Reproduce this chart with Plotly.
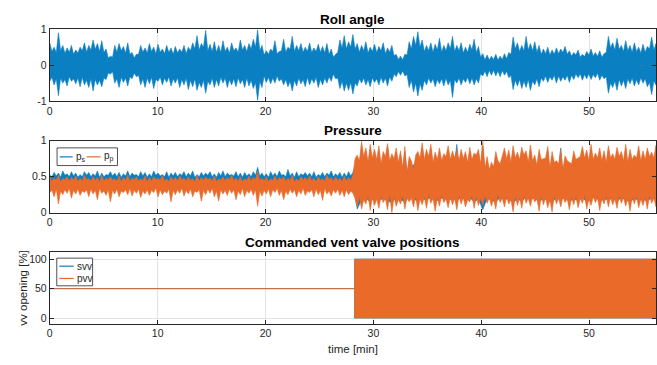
import numpy as np
import plotly.graph_objects as go

# ---------------- data (signal values in hundredths) ----------------
t_end = 56.2
x_ticks = [0, 10, 20, 30, 40, 50]

# Roll angle: local maxima (peaks, 141 bins) and the dips between them (valleys, 140)
roll_hi_peak = [62,50,90,55,48,55,42,50,62,55, 70,60,68,45,25,55,60,52,62,35,
                30,55,48,60,50,58,45,55,48,52, 45,55,50,62,82,60,97,58,65,55,
                68,50,62,48,70,55,60,72,98,55, 40,45,68,38,72,50,80,55,60,50,
                62,48,58,52,60,45,30,70,82,65, 85,60,55,65,50,58,52,62,48,55,
                30,25,30,65,80,93,70,55,62,58, 75,55,62,80,55,62,50,58,72,52,
                32,28,25,30,25,32,35,78,62,55, 80,60,65,55,45,50,42,48,45,52,
                40,35,42,30,38,45,35,40,32,80, 62,75,55,68,55,62,50,58,52,78,
                60]
roll_hi_valley = [38,35,40,33,36,30,34,40,36,42, 44,38,35,20,22,36,40,34,30,20,
                  30,36,34,38,32,36,32,35,30,34, 36,32,40,45,42,50,40,38,36,35,
                  38,34,40,36,42,38,45,50,40,28, 30,38,32,40,36,44,38,40,36,38,
                  35,38,36,34,30,22,35,48,45,50, 45,36,40,34,38,35,40,32,36,26,
                  16,15,28,45,55,50,38,40,36,42, 36,40,45,38,40,34,36,42,35,22,
                  15,14,16,14,16,18,30,45,38,40, 42,40,36,30,32,28,30,32,35,30,
                  25,28,22,24,28,25,24,22,35,48, 42,44,38,40,36,38,34,36,45,42]
roll_lo_peak = [-45,-55,-85,-50,-58,-45,-52,-60,-55,-62, -72,-55,-60,-40,-25,-50,-62,-48,-58,-38,
                -32,-55,-62,-52,-65,-45,-55,-48,-58,-50, -62,-55,-68,-60,-70,-62,-78,-55,-62,-58,
                -50,-62,-55,-60,-52,-62,-58,-65,-98,-62, -48,-52,-50,-45,-55,-60,-72,-58,-52,-60,
                -55,-50,-62,-55,-50,-45,-38,-65,-72,-70, -80,-58,-50,-55,-60,-48,-55,-50,-58,-45,
                -32,-28,-30,-62,-75,-86,-70,-55,-50,-60, -52,-58,-55,-90,-50,-55,-48,-52,-55,-50,
                -30,-32,-28,-30,-32,-28,-35,-68,-58,-65, -62,-70,-55,-60,-45,-48,-42,-50,-45,-42,
                -48,-40,-35,-42,-38,-40,-35,-42,-38,-78, -62,-70,-58,-65,-52,-58,-55,-50,-60,-82,
                -55]
roll_lo_valley = [-34,-38,-36,-40,-32,-38,-36,-34,-42,-38, -40,-42,-36,-22,-18,-38,-34,-36,-32,-22,
                  -28,-38,-36,-34,-40,-33,-36,-32,-38,-35, -40,-36,-42,-38,-48,-42,-45,-36,-40,-34,
                  -36,-40,-38,-35,-40,-36,-42,-48,-45,-30, -34,-36,-30,-38,-40,-45,-42,-36,-40,-34,
                  -38,-34,-40,-36,-32,-25,-36,-45,-50,-48, -50,-38,-36,-40,-35,-38,-34,-36,-32,-25,
                  -18,-16,-26,-42,-50,-52,-42,-36,-38,-40, -38,-36,-42,-40,-36,-38,-34,-36,-38,-24,
                  -16,-15,-14,-16,-15,-17,-28,-42,-40,-44, -40,-44,-38,-36,-30,-32,-28,-30,-32,-28,
                  -28,-25,-24,-26,-24,-26,-22,-28,-32,-50, -44,-40,-42,-38,-36,-40,-35,-38,-48,-44]

# Pressure p_s (blue)
ps_hi_peak = [52,56,55,58,54,57,55,53,57,56, 54,58,55,53,57,55,56,54,58,55,
              53,57,56,54,58,55,53,57,55,56, 54,57,55,58,53,56,55,57,54,56,
              58,55,53,57,55,56,54,57,63,55, 54,57,55,58,53,60,55,57,54,56,
              55,57,53,56,55,58,54,56,55,57, 56,
              70,90,85,88,80,86,78,90,75,84, 80,85,72,66,78,90,82,88,78,83,
              76,86,80,95,82,78,85,77,82,92, 72,64,78,62,84,80,86,78,85,80,
              88,74,82,70,86,78,66,90,72,64, 80,70,86,80,88,77,84,80,86,76,
              85,79,88,82,74,86,80,84,78,88]
ps_hi_valley = [50,51,49,52,50,51,49,50,52,50, 51,49,50,52,51,50,49,51,50,52,
                50,51,49,50,52,51,50,49,51,50, 52,50,51,49,50,51,52,50,49,51,
                50,52,51,50,49,51,50,52,51,50, 49,51,50,52,50,51,49,50,52,51,
                50,49,51,50,52,50,51,49,50,51,
                66,64,68,62,66,65,60,68,64,66, 62,58,52,64,70,66,65,68,62,66,
                64,68,66,70,64,66,62,66,70,60, 55,54,58,62,68,66,62,66,65,70,
                62,64,58,66,68,55,62,60,54,64, 60,66,70,68,64,66,68,64,62,68,
                66,70,64,62,66,68,64,66,70,68]
ps_lo_peak = [40,38,41,39,40,37,41,39,40,38, 41,39,40,38,41,39,40,37,41,39,
              40,38,41,39,40,38,41,39,40,38, 41,39,40,37,41,39,40,38,41,39,
              40,38,41,39,40,38,41,39,30,38, 41,39,40,38,41,39,40,38,41,39,
              40,38,41,39,40,38,41,39,40,38, 40,
              5,18,20,15,22,17,20,16,14,21, 18,15,22,19,16,20,17,22,15,19,
              21,17,20,16,22,18,21,15,19,4, 20,17,15,21,18,20,14,19,16,22,
              18,21,15,20,17,14,21,18,22,16, 19,17,21,15,20,22,16,19,18,20,
              16,21,18,15,20,17,19,16,21,18]

# Pressure p_p (orange)
pp_hi_peak = [50,48,52,47,50,49,51,48,52,47, 50,49,52,48,50,47,51,49,52,48,
              50,47,51,49,50,48,52,47,50,49, 51,48,50,47,52,49,50,48,51,47,
              50,49,52,48,50,47,51,49,58,48, 50,47,51,49,50,48,52,47,50,49,
              51,48,50,47,52,49,50,48,51,49, 52,
              80,99,90,95,88,93,85,96,82,90, 86,92,78,60,85,97,88,95,84,90,
              82,93,86,88,88,85,91,83,88,99, 78,70,85,68,90,87,93,84,91,86,
              94,80,88,75,92,85,72,88,79,70, 86,76,92,87,95,83,90,86,93,82,
              91,85,95,88,80,93,86,90,84,94]
pp_hi_valley = [44,45,43,46,44,45,43,44,46,44, 45,43,44,46,45,44,43,45,44,46,
                44,45,43,44,46,45,44,43,45,44, 46,44,45,43,44,45,46,44,43,45,
                44,46,45,44,43,45,44,46,45,44, 43,45,44,46,44,45,43,44,46,45,
                44,43,45,44,46,44,45,43,44,45,
                75,72,78,70,76,74,68,78,72,75, 70,62,55,72,80,76,74,78,70,74,
                72,78,74,76,72,75,70,74,80,68, 62,60,64,72,78,75,70,76,74,80,
                70,72,66,74,76,62,70,68,60,72, 68,74,78,76,72,74,76,72,70,76,
                74,78,72,70,74,76,72,74,78,76]
pp_lo_peak = [28,22,12,25,27,20,26,24,28,22, 26,18,27,24,15,26,22,28,25,23,
              27,21,26,24,28,22,25,27,15,25, 27,23,26,22,28,16,25,27,22,16,
              26,24,27,18,25,22,27,24,9,23, 26,22,28,24,18,25,27,22,26,24,
              28,22,25,17,26,23,27,24,22,25, 27,
              8,5,12,3,10,6,14,4,0,9, 12,5,15,8,3,11,6,13,2,9,
              14,7,11,4,12,8,15,6,10,10, 13,9,5,14,8,12,1,10,6,13,
              9,15,2,11,7,1,12,8,14,4, 11,7,13,5,10,14,3,12,8,11,
              6,13,9,2,12,7,10,5,13,8]
pp_lo_valley = [31,33,30,32,34,31,33,30,32,33, 31,34,30,32,31,33,30,32,34,31,
                33,30,32,31,34,32,30,33,31,32, 34,31,33,30,32,31,33,34,30,32,
                31,33,32,30,34,31,33,32,30,31, 33,32,34,31,30,33,32,31,34,30,
                32,33,31,34,30,32,33,31,32,30,
                20,22,18,24,21,19,23,20,25,22, 18,24,21,20,23,19,22,25,20,21,
                24,19,22,20,23,21,18,24,22,20, 23,21,19,25,20,22,18,23,21,24,
                20,22,19,23,21,18,24,20,22,19, 21,23,20,24,19,22,21,20,23,22,
                19,24,21,20,22,23,19,21,24,20]

# Commanded vent valve positions [%]
vv_t = [0.0, 28.25, 28.25, 56.2]
svv_hi = [50, 50, 100, 100]
svv_lo = [50, 50, 0, 0]
pvv_hi = [50, 50, 100, 100]
pvv_lo = [50, 50, 0, 0]

# ---------------- figure ----------------
BLUE = "#0A7FC2"
ORANGE = "#EA6A2A"
AX = "#262626"
GRID = "#E3E3E3"
FONT = "Liberation Sans, Arial, Helvetica, sans-serif"
W, H = 657, 365


def px(x):
    return x / W


def py(y):
    return 1 - y / H


n_peak = len(roll_hi_peak)
t_peak = np.linspace(0, t_end, n_peak)
t_fine = np.linspace(0, t_end, 2 * n_peak - 1)


def edge(peaks, valleys):
    """Peaks sit at the bin times, valleys halfway between them."""
    out = []
    for i, p in enumerate(peaks):
        out.append(p / 100)
        if i < len(valleys):
            out.append(valleys[i] / 100)
    return out


fig = go.Figure()


def add_band(t_up, up, t_dn, dn, color, xa, ya):
    bx = list(t_up) + list(t_dn)[::-1]
    by = list(up) + list(dn)[::-1]
    fig.add_trace(go.Scatter(x=bx, y=by, mode="lines", fill="toself",
                             fillcolor=color, line=dict(color=color, width=0.6),
                             xaxis=xa, yaxis=ya, showlegend=False,
                             hoverinfo="skip"))


add_band(t_fine, edge(roll_hi_peak, roll_hi_valley),
         t_fine, edge(roll_lo_peak, roll_lo_valley), BLUE, "x", "y")

add_band(t_fine, edge(ps_hi_peak, ps_hi_valley),
         t_peak, [v / 100 for v in ps_lo_peak], BLUE, "x2", "y2")
add_band(t_fine, edge(pp_hi_peak, pp_hi_valley),
         t_fine, edge(pp_lo_peak, pp_lo_valley), ORANGE, "x2", "y2")

add_band(vv_t, svv_hi, vv_t, svv_lo, BLUE, "x3", "y3")
add_band(vv_t, pvv_hi, vv_t, pvv_lo, ORANGE, "x3", "y3")

common = dict(showline=True, linecolor=AX, linewidth=1, mirror="ticks",
              ticks="inside", ticklen=4, tickcolor=AX, tickwidth=1,
              showgrid=True, gridcolor=GRID, gridwidth=1, zeroline=False,
              tickfont=dict(family=FONT, size=10.5, color=AX))

xdom = [px(47), px(656)]
rows = [(24.0, 98.3), (139.3, 213.7), (254.0, 328.7)]

lay = {}
for i, (top, bot) in enumerate(rows):
    sx = "" if i == 0 else str(i + 1)
    lay["xaxis" + sx] = dict(common, domain=xdom, anchor="y" + sx,
                             range=[0, t_end], tickvals=x_ticks,
                             ticktext=[str(v) for v in x_ticks])
    lay["yaxis" + sx] = dict(common, domain=[py(bot), py(top)],
                             anchor="x" + sx)

lay["yaxis"].update(range=[-1, 1], tickvals=[-1, 0, 1], ticktext=["-1", "0", "1"])
lay["yaxis2"].update(range=[0, 1], tickvals=[0, 0.5, 1], ticktext=["0", "0.5", "1"])
lay["yaxis3"].update(range=[-9.8, 112.6], tickvals=[0, 50, 100], ticktext=["0", "50", "100"])

fig.update_layout(width=W, height=H, margin=dict(l=0, r=0, t=0, b=0),
                  paper_bgcolor="white", plot_bgcolor="white",
                  showlegend=False, font=dict(family=FONT, color=AX), **lay)

ann = []
for title, ycen in [("Roll angle", 13.5), ("Pressure", 129.0), ("Commanded vent valve positions", 244.5)]:
    ann.append(dict(text="<b>" + title + "</b>", x=px(351.5), y=py(ycen),
                    xref="paper", yref="paper", showarrow=False,
                    xanchor="center", yanchor="middle",
                    font=dict(family=FONT, size=13.5, color="#000000")))
ann.append(dict(text="time [min]", x=px(351.5), y=py(354.5), xref="paper", yref="paper",
                showarrow=False, xanchor="center", yanchor="middle",
                font=dict(family=FONT, size=11.5, color=AX)))
ann.append(dict(text="vv opening [%]", x=px(20), y=py(291.3), xref="paper", yref="paper",
                showarrow=False, xanchor="center", yanchor="middle", textangle=-90,
                font=dict(family=FONT, size=11.5, color=AX)))

shapes = []


def legend_box(x0, y0, x1, y1):
    shapes.append(dict(type="rect", xref="paper", yref="paper",
                       x0=px(x0), x1=px(x1), y0=py(y1), y1=py(y0),
                       fillcolor="white", line=dict(color=AX, width=0.8), layer="above"))


def legend_item(x0, x1, y, color, text):
    shapes.append(dict(type="line", xref="paper", yref="paper",
                       x0=px(x0), x1=px(x1), y0=py(y), y1=py(y),
                       line=dict(color=color, width=1.2), layer="above"))
    ann.append(dict(text=text, x=px(x1 + 1.5), y=py(y), xref="paper", yref="paper",
                    showarrow=False, xanchor="left", yanchor="middle",
                    font=dict(family=FONT, size=10, color=AX)))


legend_box(54.3, 146.7, 115, 165)
legend_item(57, 70, 156, BLUE, "p<sub>s</sub>")
legend_item(84, 98, 156, ORANGE, "p<sub>p</sub>")

legend_box(54, 260.7, 90, 289.3)
legend_item(56.5, 71, 269, BLUE, "svv")
legend_item(56.5, 71, 281.7, ORANGE, "pvv")

fig.update_layout(annotations=ann, shapes=shapes)
fig.write_html("out.html")
